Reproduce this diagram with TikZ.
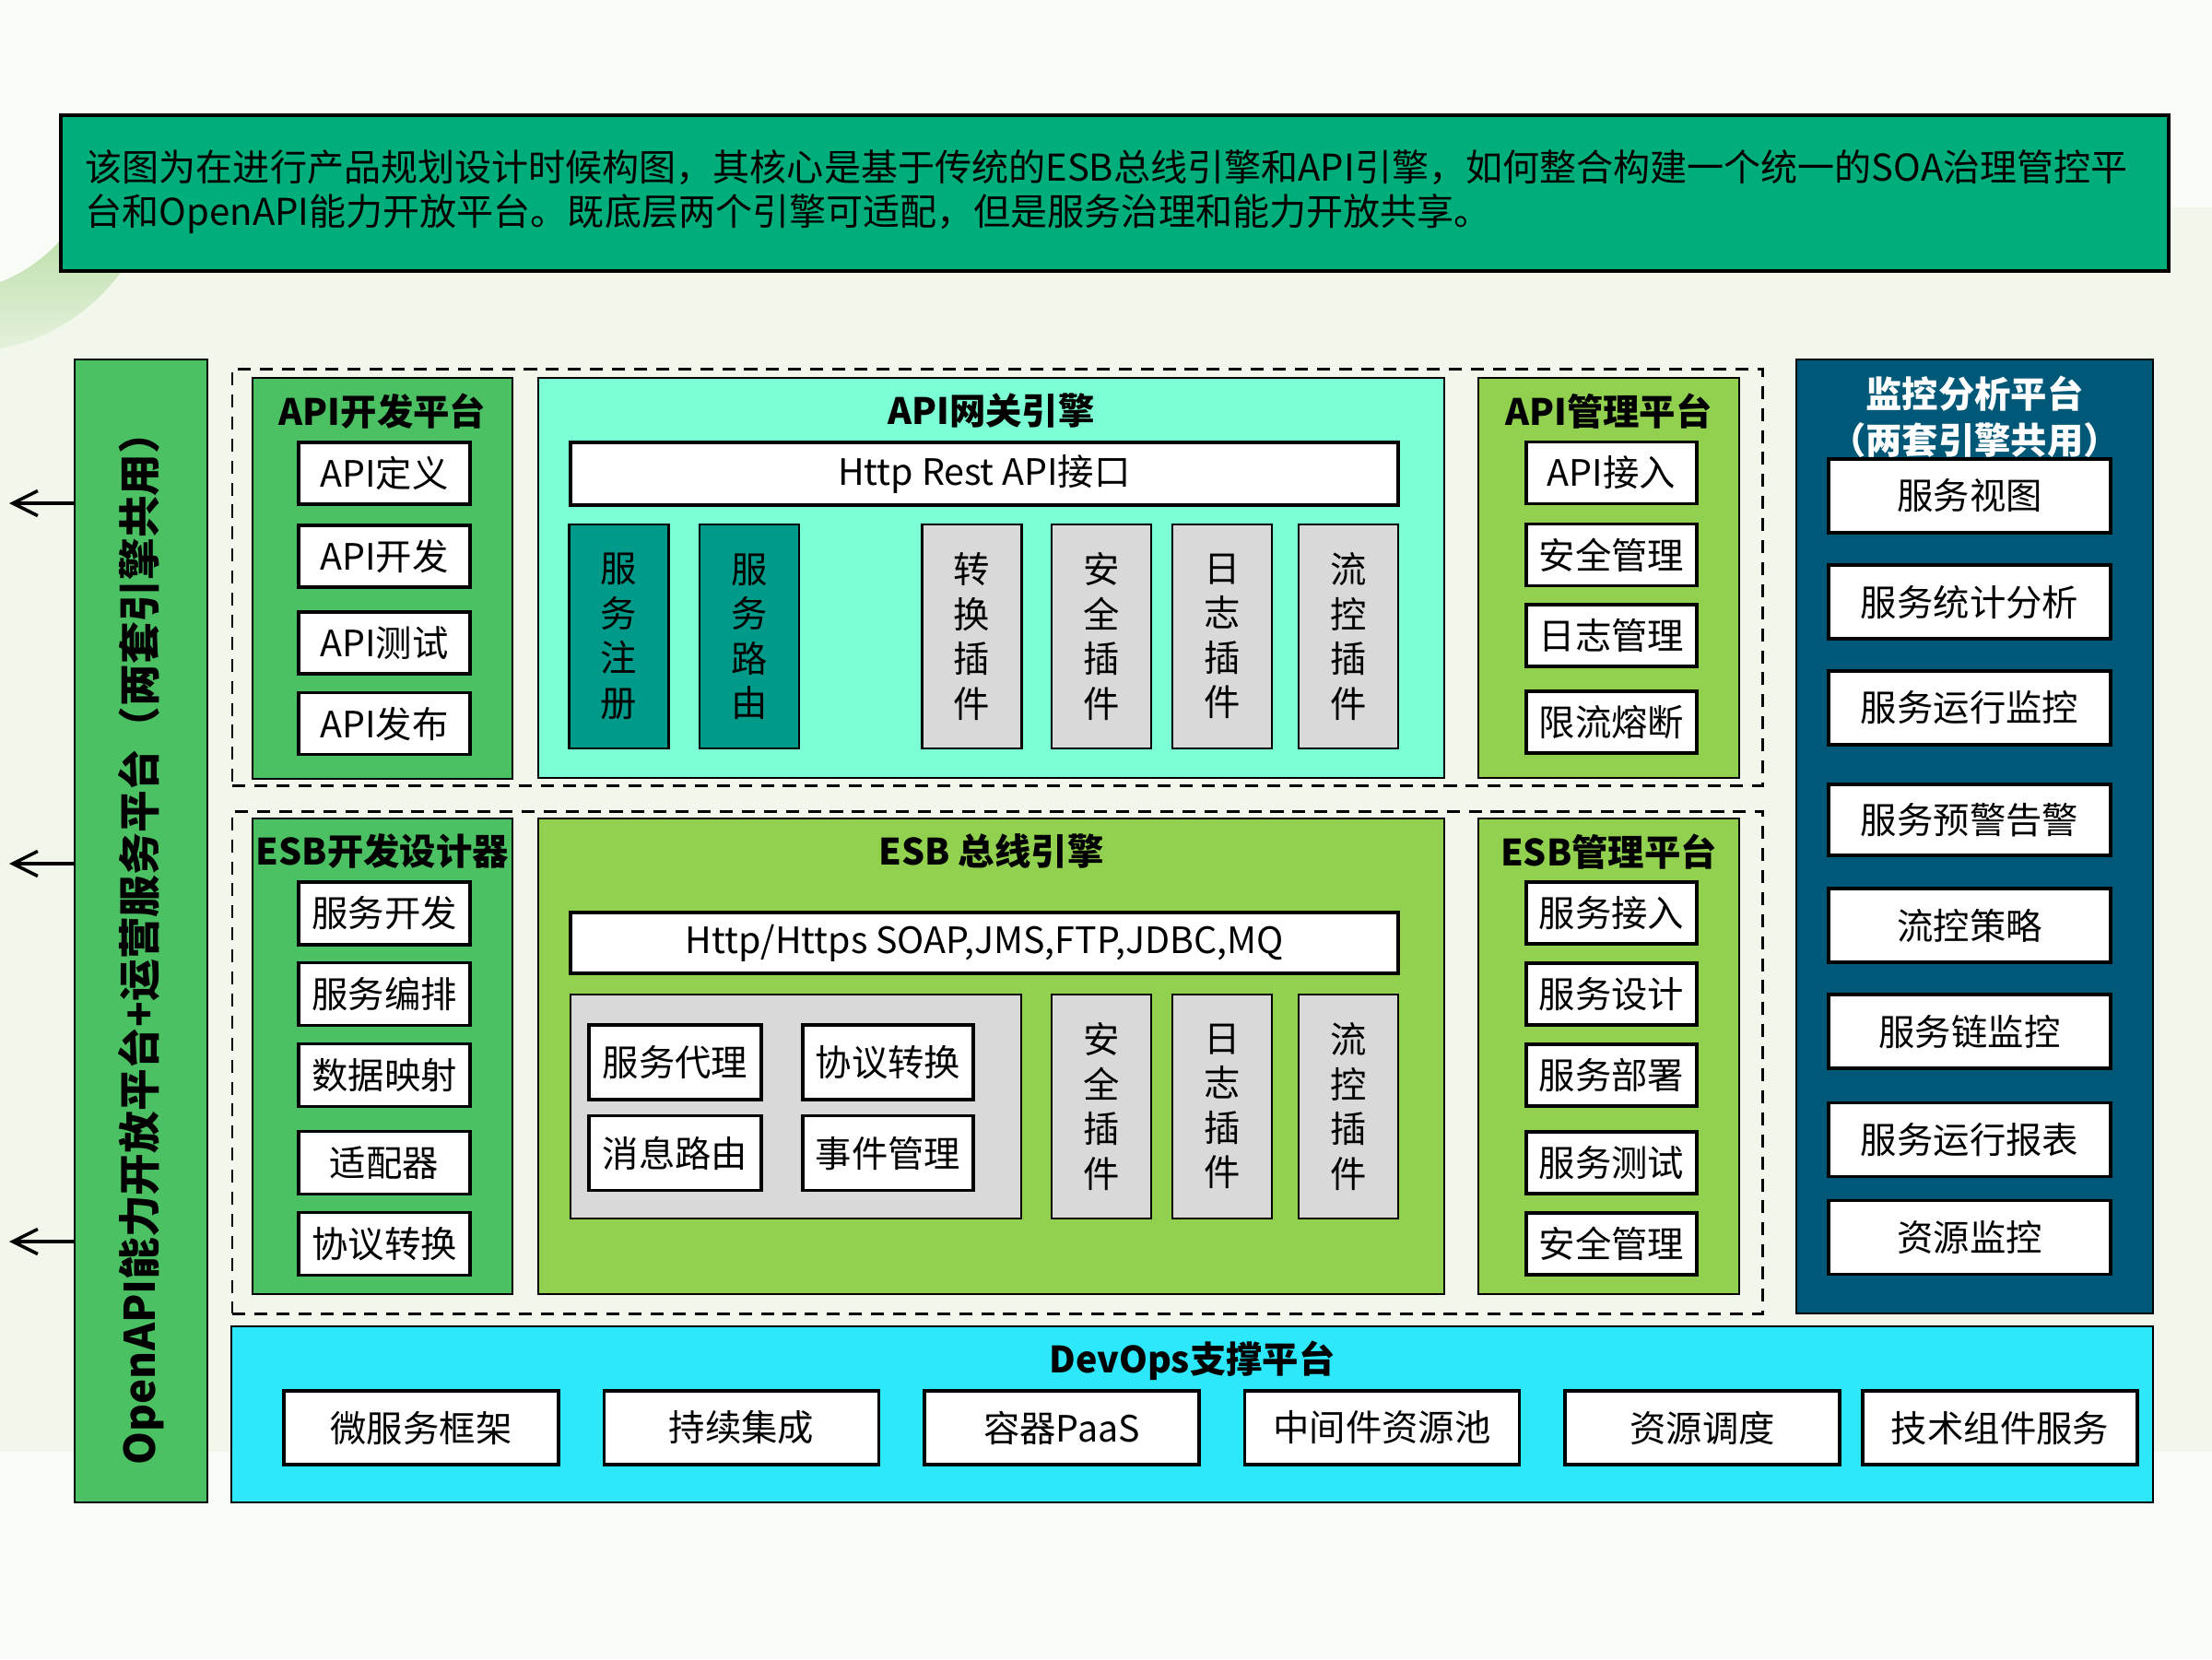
\documentclass[tikz,border=0pt]{standalone}
\usepackage{fontspec}
\setmainfont{Noto Sans CJK SC}
\usetikzlibrary{positioning,arrows.meta}
\definecolor{bgpale}{HTML}{F9FBF6}
\definecolor{bgband}{HTML}{F1F7EA}
\definecolor{leafgreen}{HTML}{B3DA9E}
\definecolor{leaflight}{HTML}{E8F3E1}
\definecolor{descgreen}{HTML}{00AE7B}
\definecolor{midgreen}{HTML}{4CC164}
\definecolor{aqua}{HTML}{7DFFD5}
\definecolor{limegreen}{HTML}{92D050}
\definecolor{darkteal}{HTML}{009A8A}
\definecolor{plugray}{HTML}{D9D9D9}
\definecolor{navyteal}{HTML}{005878}
\definecolor{skycyan}{HTML}{2DE7FB}

\begin{document}
\begin{tikzpicture}[x=1cm, y=-1cm,
    plat/.style={draw, line width=0.7pt, inner sep=0pt},
    cell/.style={draw, fill=white, line width=0.9pt, inner sep=0pt,
        minimum width=1.86cm, minimum height=0.67cm,
        font=\fontsize{11.2}{13.5}\selectfont},
    plug/.style={draw, line width=0.7pt, inner sep=0pt, align=center,
        minimum width=1.08cm, minimum height=2.43cm,
        font=\fontsize{11.2}{13.8}\selectfont},
    ttl/.style={inner sep=0pt, font=\fontsize{11.2}{14.2}\selectfont\bfseries},
    grp/.style={draw, dash pattern=on 4pt off 2.8pt, line width=0.85pt, inner sep=0pt},
    arr/.style={-{Straight Barb[length=2.7mm,width=2.7mm]}, line width=1pt}]

    \useasboundingbox (0,0) rectangle (24,18);
    \fill[bgpale] (0,0) rectangle (24,18);
    \fill[bgband] (0,2.25) rectangle (24,15.75);
    \begin{scope}
        \clip (0,0) rectangle (24,18);
        \clip (-0.40,1.70) circle (2.12);
        \shade[top color=leafgreen, bottom color=leaflight] (-0.5,2.2) rectangle (2,3.9);
    \end{scope}
    \begin{scope}
        \clip (0,0) rectangle (24,18);
        \fill[bgpale] (-0.60,1.50) circle (1.67);
    \end{scope}

    \node[draw, line width=0.9pt, fill=descgreen, inner sep=0pt,
        minimum width=22.87cm, minimum height=1.69cm] (desc) at (12.095,2.095) {};
    \node[anchor=west, align=left, inner sep=0pt, font=\fontsize{11.4}{13.7}\selectfont]
        (desctext) at (0.92,2.08)
        {该图为在进行产品规划设计时候构图，其核心是基于传统的ESB总线引擎和API引擎，如何整合构建一个统一的SOA治理管控平\\
         台和OpenAPI能力开放平台。既底层两个引擎可适配，但是服务治理和能力开放共享。};

    \node[plat, fill=midgreen, minimum width=1.44cm, minimum height=12.40cm] (openbar) at (1.53,10.10) {};
    \node[rotate=90, inner sep=0pt, font=\fontsize{13}{15}\selectfont\bfseries] (opentext) at (1.53,10.18)
        {OpenAPI能力开放平台+运营服务平台（两套引擎共用）};
    \coordinate (tipa) at (0.10,5.46);
    \coordinate (tipb) at (0.10,9.37);
    \coordinate (tipc) at (0.10,13.47);
    \draw[arr] (openbar.west |- tipa) -- (tipa);
    \draw[arr] (openbar.west |- tipb) -- (tipb);
    \draw[arr] (openbar.west |- tipc) -- (tipc);

    \node[grp, minimum width=16.60cm, minimum height=4.52cm] (apigrp) at (10.82,6.26) {};
    \node[grp, minimum width=16.60cm, minimum height=5.45cm] (esbgrp) at (10.82,11.525) {};

    \node[plat, fill=midgreen, minimum width=2.82cm, minimum height=4.35cm] (apidev) at (4.15,6.275) {};
    \node[ttl, below=0.17cm of apidev.north] (apidevttl) {API开发平台};
    \node[cell] (apidef) at (4.17,5.135) {API定义};
    \node[cell] (apidevelop) at (4.17,6.035) {API开发};
    \node[cell] (apitest) at (4.17,6.975) {API测试};
    \node[cell] (apipub) at (4.17,7.85) {API发布};

    \node[plat, fill=aqua, minimum width=9.83cm, minimum height=4.34cm] (gateway) at (10.755,6.27) {};
    \node[ttl, below=0.17cm of gateway.north] (gatewayttl) {API网关引擎};
    \node[cell, minimum width=8.98cm, minimum height=0.68cm] (restapi) at (10.68,5.14) {Http Rest API接口};
    \node[plug, fill=darkteal] (svcreg) at (6.715,6.905) {服\\务\\注\\册};
    \node[plug, fill=darkteal] (svcroute) at (8.13,6.905) {服\\务\\路\\由};
    \node[plug, fill=plugray] (gwconv) at (10.545,6.905) {转\\换\\插\\件};
    \node[plug, fill=plugray] (gwsec) at (11.95,6.905) {安\\全\\插\\件};
    \node[plug, fill=plugray] (gwlog) at (13.26,6.905) {日\\志\\插\\件};
    \node[plug, fill=plugray] (gwflow) at (14.63,6.905) {流\\控\\插\\件};

    \node[plat, fill=limegreen, minimum width=2.83cm, minimum height=4.34cm] (apimgr) at (17.455,6.27) {};
    \node[ttl, below=0.17cm of apimgr.north] (apimgrttl) {API管理平台};
    \node[cell, minimum width=1.85cm] (apiin) at (17.485,5.13) {API接入};
    \node[cell, minimum width=1.85cm] (apisec) at (17.485,6.02) {安全管理};
    \node[cell, minimum width=1.85cm] (apilog) at (17.485,6.895) {日志管理};
    \node[cell, minimum width=1.85cm] (apilimit) at (17.485,7.835) {限流熔断};

    \node[plat, fill=navyteal, minimum width=3.87cm, minimum height=10.35cm] (monitor) at (21.425,9.075) {};
    \node[ttl, text=white, align=center, below=0.18cm of monitor.north] (monitorttl)
        {监控分析平台\\（两套引擎共用）};
    \node[cell, minimum width=3.06cm, minimum height=0.80cm] (mview) at (21.37,5.38) {服务视图};
    \node[cell, minimum width=3.06cm, minimum height=0.80cm] (mstat) at (21.37,6.53) {服务统计分析};
    \node[cell, minimum width=3.06cm, minimum height=0.80cm] (mrun) at (21.37,7.68) {服务运行监控};
    \node[cell, minimum width=3.06cm, minimum height=0.77cm] (malert) at (21.37,8.895) {服务预警告警};
    \node[cell, minimum width=3.06cm, minimum height=0.80cm] (mflow) at (21.37,10.04) {流控策略};
    \node[cell, minimum width=3.06cm, minimum height=0.80cm] (mchain) at (21.37,11.19) {服务链监控};
    \node[cell, minimum width=3.06cm, minimum height=0.80cm] (mreport) at (21.37,12.365) {服务运行报表};
    \node[cell, minimum width=3.06cm, minimum height=0.80cm] (mres) at (21.37,13.425) {资源监控};

    \node[plat, fill=midgreen, minimum width=2.82cm, minimum height=5.16cm] (esbdev) at (4.15,11.46) {};
    \node[ttl, below=0.17cm of esbdev.north] (esbdevttl) {ESB开发设计器};
    \node[cell, minimum height=0.68cm] (sdev) at (4.17,9.91) {服务开发};
    \node[cell, minimum height=0.68cm] (sorch) at (4.17,10.785) {服务编排};
    \node[cell, minimum height=0.68cm] (smap) at (4.17,11.665) {数据映射};
    \node[cell, minimum height=0.68cm] (sadapt) at (4.17,12.615) {适配器};
    \node[cell, minimum height=0.68cm] (sproto) at (4.17,13.495) {协议转换};

    \node[plat, fill=limegreen, minimum width=9.83cm, minimum height=5.16cm] (esbcore) at (10.755,11.46) {};
    \node[ttl, below=0.17cm of esbcore.north] (esbcorettl) {ESB 总线引擎};
    \node[cell, minimum width=8.98cm, minimum height=0.66cm] (esbproto) at (10.68,10.23) {Http/Https SOAP,JMS,FTP,JDBC,MQ};
    \node[plat, fill=plugray, minimum width=4.89cm, minimum height=2.43cm] (esbcomp) at (8.635,12.005) {};
    \node[cell, minimum width=1.87cm, minimum height=0.81cm] (proxy) at (7.325,11.525) {服务代理};
    \node[cell, minimum width=1.85cm, minimum height=0.81cm] (protoconv) at (9.635,11.525) {协议转换};
    \node[cell, minimum width=1.87cm, minimum height=0.81cm] (msgroute) at (7.325,12.51) {消息路由};
    \node[cell, minimum width=1.85cm, minimum height=0.81cm] (eventmgr) at (9.635,12.51) {事件管理};
    \node[plug, fill=plugray] (esbsec) at (11.95,12.005) {安\\全\\插\\件};
    \node[plug, fill=plugray] (esblog) at (13.26,12.005) {日\\志\\插\\件};
    \node[plug, fill=plugray] (esbflow) at (14.63,12.005) {流\\控\\插\\件};

    \node[plat, fill=limegreen, minimum width=2.83cm, minimum height=5.16cm] (esbmgr) at (17.455,11.46) {};
    \node[ttl, below=0.17cm of esbmgr.north] (esbmgrttl) {ESB管理平台};
    \node[cell, minimum width=1.85cm] (sin) at (17.485,9.905) {服务接入};
    \node[cell, minimum width=1.85cm] (sdesign) at (17.485,10.785) {服务设计};
    \node[cell, minimum width=1.85cm] (sdeploy) at (17.485,11.665) {服务部署};
    \node[cell, minimum width=1.85cm] (stest) at (17.485,12.615) {服务测试};
    \node[cell, minimum width=1.85cm] (ssec) at (17.485,13.495) {安全管理};

    \node[plat, fill=skycyan, minimum width=20.85cm, minimum height=1.91cm] (devops) at (12.935,15.345) {};
    \node[ttl, below=0.16cm of devops.north] (devopsttl) {DevOps支撑平台};
    \node[cell, minimum width=2.98cm, minimum height=0.80cm] (micro) at (4.57,15.49) {微服务框架};
    \node[cell, minimum width=2.98cm, minimum height=0.80cm] (ci) at (8.045,15.49) {持续集成};
    \node[cell, minimum width=2.98cm, minimum height=0.80cm] (paas) at (11.52,15.49) {容器PaaS};
    \node[cell, minimum width=2.98cm, minimum height=0.80cm] (mwpool) at (14.995,15.49) {中间件资源池};
    \node[cell, minimum width=2.98cm, minimum height=0.80cm] (sched) at (18.47,15.49) {资源调度};
    \node[cell, minimum width=2.98cm, minimum height=0.80cm] (techsvc) at (21.70,15.49) {技术组件服务};
\end{tikzpicture}
\end{document}
